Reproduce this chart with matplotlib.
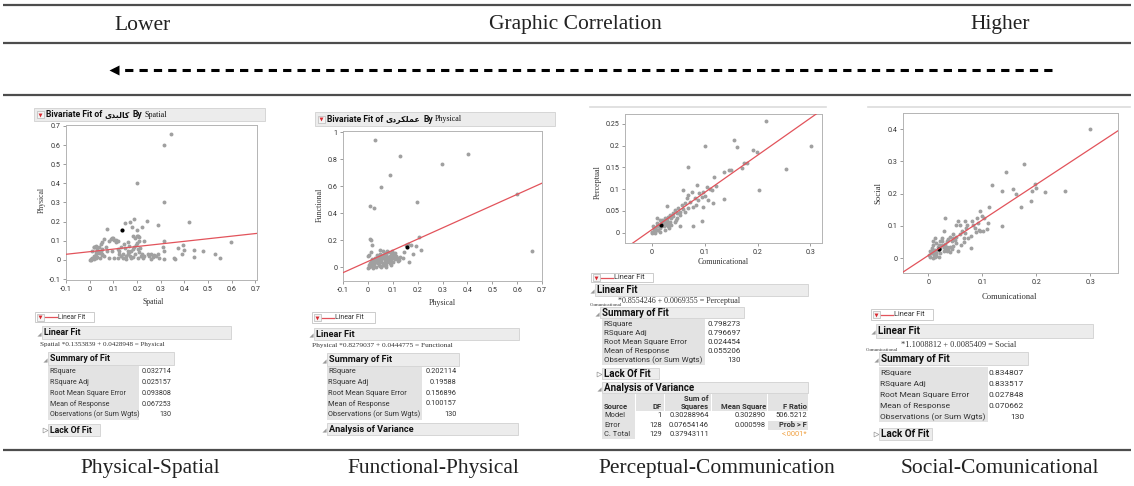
import numpy as np
import matplotlib.pyplot as plt
from matplotlib.patches import Rectangle
from matplotlib.path import Path

plt.rcParams['axes.unicode_minus'] = False

UI = ['Roboto', 'DejaVu Sans']
SERIF = ['Liberation Serif', 'DejaVu Serif']
RED = '#e2535b'
PT = '#a0a0a0'
INK = '#333333'

band_labels = ['Lower', 'Graphic Correlation', 'Higher']
case_labels = ['Physical-Spatial', 'Functional-Physical',
               'Perceptual-Communication', 'Social-Comunicational']
stat_labels = ['RSquare', 'RSquare Adj', 'Root Mean Square Error',
               'Mean of Response', 'Observations (or Sum Wgts)']

# Persian variable names, written in visual (shaped, left-to-right) order
kalbadi = '\uFBFC\uFEAA\uFE92\uFEDF\uFE8E\uFB90'
amalkardi = '\uFBFC\uFEA9\uFEAE\uFB91\uFEE0\uFEE4\uFECB'

# Physical (y) by Spatial (x)
spatial_physical = [
    (0.342, 0.658), (0.312, 0.603), (0.200, 0.400), (0.315, 0.300), (0.241, 0.205),
    (0.290, 0.180), (0.421, 0.196), (0.188, 0.214), (0.150, 0.193), (0.170, 0.196),
    (0.072, 0.161), (0.177, 0.170), (0.200, 0.158), (0.221, 0.170), (0.599, 0.091),
    (0.528, 0.030), (0.550, 0.009), (0.479, 0.047), (0.440, 0.054), (0.440, 0.016),
    (0.394, 0.079), (0.397, 0.050), (0.390, 0.030), (0.373, 0.061), (0.358, 0.009),
    (0.362, 0.004), (0.312, 0.100), (0.312, 0.047), (0.312, 0.004), (0.309, 0.065),
    (0.004, 0.004), (0.011, 0.012), (0.018, 0.021), (0.025, 0.039), (0.033, 0.056),
    (0.040, 0.068), (0.047, 0.082), (0.051, 0.091), (0.025, 0.074), (0.018, 0.065),
    (0.011, 0.047), (0.028, 0.030), (0.037, 0.039), (0.047, 0.047), (0.054, 0.056),
    (0.068, 0.065), (0.075, 0.047), (0.082, 0.100), (0.089, 0.109), (0.096, 0.114),
    (0.103, 0.105), (0.110, 0.091), (0.125, 0.047), (0.132, 0.021), (0.139, 0.012),
    (0.153, 0.021), (0.160, 0.030), (0.167, 0.039), (0.174, 0.047), (0.181, 0.056),
    (0.188, 0.065), (0.195, 0.079), (0.198, 0.126), (0.205, 0.126), (0.210, 0.100),
    (0.203, 0.056), (0.210, 0.039), (0.217, 0.021), (0.224, 0.012), (0.231, 0.021),
    (0.252, 0.021), (0.259, 0.030), (0.266, 0.016), (0.280, 0.021), (0.288, 0.030),
    (0.295, 0.012), (0.118, 0.056), (0.132, 0.065), (0.146, 0.082), (0.160, 0.091),
    (0.167, 0.074), (0.160, 0.047), (0.153, 0.004), (0.174, 0.009), (0.181, 0.016),
    (0.203, 0.012), (0.096, 0.047), (0.103, 0.012), (0.118, 0.012), (0.125, 0.033),
    (0.061, 0.109), (0.054, 0.026), (0.042, 0.009), (0.025, 0.009), (0.000, 0.000),
    (0.007, 0.002), (0.020, 0.005), (0.030, 0.015), (0.060, 0.020), (0.080, 0.010),
    (0.140, 0.030), (0.212, 0.060), (0.230, 0.100), (0.200, 0.090), (0.270, 0.025),
    (0.245, 0.030), (0.260, 0.005), (0.220, 0.030), (0.190, 0.030), (0.170, 0.022),
    (0.150, 0.060), (0.120, 0.100), (0.110, 0.105), (0.020, 0.070), (0.040, 0.035),
    (0.050, 0.030), (0.100, 0.115), (0.185, 0.125), (0.192, 0.112), (0.208, 0.118),
]
spatial_mean = (0.138, 0.158)
fit_physical = (0.1353839, 0.0428948)
stats_physical = ['0.032714', '0.025157', '0.093808', '0.067253', '130']

# Functional (y) by Physical (x)
physical_functional = [
    (0.029, 0.943), (0.131, 0.822), (0.401, 0.842), (0.299, 0.763), (0.087, 0.681),
    (0.051, 0.598), (0.196, 0.481), (0.008, 0.454), (0.023, 0.442), (0.601, 0.543),
    (0.658, 0.123), (0.008, 0.212), (0.013, 0.200), (0.016, 0.170), (0.204, 0.225),
    (0.214, 0.126), (0.180, 0.101), (0.165, 0.040), (0.172, 0.163), (0.161, 0.173),
    (0.194, 0.160), (0.127, 0.057), (0.098, 0.121), (0.075, 0.121), (0.048, 0.133),
    (0.000, 0.086), (0.005, 0.096), (0.011, 0.111), (0.000, -0.002), (0.005, 0.005),
    (0.011, 0.012), (0.016, 0.022), (0.021, 0.030), (0.027, 0.042), (0.032, 0.052),
    (0.038, 0.062), (0.043, 0.072), (0.048, 0.079), (0.054, 0.086), (0.060, 0.096),
    (0.067, 0.104), (0.074, 0.091), (0.080, 0.079), (0.087, 0.067), (0.094, 0.054),
    (0.101, 0.079), (0.107, 0.096), (0.114, 0.086), (0.121, 0.072), (0.101, 0.042),
    (0.087, 0.030), (0.074, 0.017), (0.060, 0.022), (0.047, 0.012), (0.034, 0.005),
    (0.020, -0.002), (0.040, 0.030), (0.054, 0.042), (0.067, 0.054), (0.080, 0.047),
    (0.060, 0.067), (0.047, 0.054), (0.034, 0.037), (0.024, 0.054), (0.013, 0.042),
    (0.007, 0.030), (0.067, 0.079), (0.080, 0.111), (0.094, 0.104), (0.074, 0.037),
    (0.094, 0.017), (0.074, 0.005), (0.054, 0.005), (0.030, 0.060), (0.020, 0.020),
    (0.040, 0.045), (0.060, 0.035), (0.050, 0.100), (0.085, 0.055), (0.110, 0.060),
    (0.120, 0.050), (0.100, 0.100), (0.070, 0.080), (0.028, 0.070), (0.035, 0.090),
    (0.015, 0.060), (0.045, 0.020), (0.065, 0.015), (0.085, 0.040), (0.090, 0.085),
    (0.062, 0.120), (0.110, 0.110), (0.130, 0.080), (0.140, 0.070), (0.005, 0.015),
    (0.018, 0.008), (0.026, 0.028), (0.052, 0.064), (0.078, 0.062), (0.097, 0.068),
    (0.145, 0.115), (0.155, 0.165),
]
physical_mean = (0.158, 0.148)
fit_functional = (0.8279037, 0.0444775)
stats_functional = ['0.202114', '0.19588', '0.156896', '0.100157', '130']

# Perceptual (y) by Comunicational (x)
comm_perceptual = [
    (0.216, 0.258), (0.302, 0.199), (0.101, 0.199), (0.156, 0.212), (0.162, 0.196),
    (0.191, 0.190), (0.199, 0.186), (0.180, 0.161), (0.171, 0.148), (0.254, 0.146),
    (0.202, 0.098), (0.068, 0.152), (0.137, 0.140), (0.145, 0.143), (0.118, 0.127),
    (0.137, 0.077), (0.094, 0.026), (0.078, 0.015), (0.053, 0.014), (0.104, 0.106),
    (0.110, 0.100), (0.097, 0.094), (0.085, 0.110), (0.059, 0.098), (0.075, 0.094),
    (0.069, 0.087), (0.082, 0.079), (0.088, 0.075), (0.095, 0.081), (0.100, 0.084),
    (0.107, 0.075), (0.116, 0.069), (0.097, 0.058), (0.083, 0.064), (0.072, 0.071),
    (0.063, 0.069), (0.056, 0.064), (0.050, 0.056), (0.053, 0.048), (0.047, 0.044),
    (0.040, 0.038), (0.037, 0.033), (0.029, 0.062), (0.028, 0.029), (0.025, 0.025),
    (0.018, 0.021), (0.012, 0.018), (0.009, 0.014), (0.006, 0.010), (0.003, 0.006),
    (0.000, 0.002), (0.001, 0.000), (0.006, 0.000), (0.012, 0.005), (0.015, 0.010),
    (0.022, 0.014), (0.028, 0.018), (0.031, 0.021), (0.034, 0.025), (0.025, 0.033),
    (0.015, 0.029), (0.009, 0.033), (0.022, 0.021), (0.018, 0.014), (0.031, 0.014),
    (0.037, 0.018), (0.044, 0.025), (0.047, 0.033), (0.040, 0.044), (0.044, 0.052),
    (0.053, 0.041), (0.063, 0.048), (0.069, 0.056), (0.077, 0.060), (0.066, 0.079),
    (0.009, 0.006), (0.003, 0.010), (0.015, 0.002), (0.025, 0.006), (0.033, 0.010),
    (0.121, 0.107), (0.113, 0.098), (0.002, 0.015), (0.010, 0.022), (0.020, 0.030),
    (0.030, 0.035), (0.035, 0.040), (0.045, 0.030), (0.058, 0.055), (0.090, 0.090),
    (0.150, 0.145), (0.175, 0.160),
]
perceptual_mean = (0.017, 0.018)
fit_perceptual = (0.8554246, 0.0069355)
stats_perceptual = ['0.798273', '0.796697', '0.024454', '0.055206', '130']

anova_cols = ['Source', 'DF', 'Squares', 'Mean Square', 'F Ratio']
anova_source = ['Model', 'Error', 'C. Total']
anova_df = ['1', '128', '129']
anova_ss = ['0.30288964', '0.07654146', '0.37943111']
anova_ms = ['0.302890', '0.000598', '']
anova_f = ['506.5212', 'Prob > F', '<.0001*']

# Social (y) by Comunicational (x)
comm_social = [
    (0.300, 0.401), (0.177, 0.292), (0.144, 0.267), (0.118, 0.227), (0.137, 0.207),
    (0.156, 0.214), (0.162, 0.199), (0.197, 0.230), (0.200, 0.216), (0.191, 0.207),
    (0.216, 0.206), (0.252, 0.209), (0.190, 0.176), (0.171, 0.160), (0.136, 0.101),
    (0.113, 0.160), (0.096, 0.145), (0.099, 0.131), (0.103, 0.125), (0.090, 0.124),
    (0.080, 0.114), (0.068, 0.114), (0.055, 0.114), (0.059, 0.103), (0.052, 0.103),
    (0.071, 0.103), (0.083, 0.103), (0.091, 0.109), (0.086, 0.093), (0.094, 0.088),
    (0.096, 0.083), (0.102, 0.083), (0.108, 0.091), (0.111, 0.109), (0.030, 0.123),
    (0.079, 0.031), (0.054, 0.021), (0.046, 0.075), (0.040, 0.067), (0.046, 0.062),
    (0.052, 0.067), (0.059, 0.075), (0.065, 0.062), (0.068, 0.078), (0.074, 0.062),
    (0.060, 0.041), (0.052, 0.047), (0.043, 0.052), (0.034, 0.052), (0.028, 0.083),
    (0.025, 0.062), (0.012, 0.062), (0.022, 0.052), (0.015, 0.047), (0.009, 0.041),
    (0.006, 0.031), (0.003, 0.021), (0.002, 0.010), (0.003, 0.003), (0.008, 0.000),
    (0.012, 0.005), (0.015, 0.016), (0.018, 0.024), (0.022, 0.031), (0.025, 0.041),
    (0.028, 0.036), (0.031, 0.028), (0.034, 0.036), (0.037, 0.026), (0.040, 0.034),
    (0.043, 0.028), (0.046, 0.038), (0.028, 0.021), (0.022, 0.016), (0.015, 0.007),
    (0.009, 0.016), (0.006, 0.021), (0.012, 0.026), (0.018, 0.034), (0.025, 0.052),
    (0.009, 0.052), (0.034, 0.021), (0.020, 0.005), (0.010, 0.010), (0.030, 0.045),
    (0.036, 0.058), (0.050, 0.055), (0.062, 0.085), (0.070, 0.095), (0.078, 0.070),
    (0.088, 0.080), (0.020, 0.040), (0.004, 0.015), (0.014, 0.012), (0.040, 0.020),
    (0.065, 0.050),
]
social_mean = (0.019, 0.028)
fit_social = (1.1008812, 0.0085409)
stats_social = ['0.834807', '0.833517', '0.027848', '0.070662', '130']


W, H = 1134, 486
fig = plt.figure(figsize=(W / 100, H / 100), dpi=100)
bg = fig.add_axes([0, 0, 1, 1])
bg.set_xlim(0, W)
bg.set_ylim(H, 0)
bg.axis('off')

# open disclosure triangle used by JMP report headers
OPEN_TRI = Path([(1, 1), (1, -1), (-1, -1), (1, 1)])


def txt(x, y, s, size=5.3, ha='left', fam=UI, **kw):
    kw.setdefault('color', INK)
    return bg.text(x, y, s, fontsize=size, ha=ha, va='center', family=fam, **kw)


def red_icon(x, y):
    bg.add_patch(Rectangle((x - 3.5, y - 3.5), 7, 7, fc='#f4f4f4', ec='#b8b8b8', lw=0.5))
    bg.plot([x], [y + 0.3], marker='v', ms=2.8, color='#d8282f', mec='none')


def header(x0, y0, x1, y1, s, k=1.0, opened=True):
    bg.add_patch(Rectangle((x0, y0), x1 - x0, y1 - y0, fc='#ececec', ec='#d0d0d0', lw=0.6))
    yc = (y0 + y1) / 2
    if opened:
        bg.plot([x0 - 3.5], [yc + 1], marker=OPEN_TRI, ms=3, color='#9a9a9a', mec='none')
    else:
        bg.plot([x0 - 3.5], [yc], marker='>', ms=3.5, mfc='white', mec='#9a9a9a', mew=0.5)
    txt(x0 + 2, yc, s, size=6.3 * k, fontweight='bold', color='#111111')


def legend_box(x0, y0, x1, y1, k=1.0):
    bg.add_patch(Rectangle((x0, y0), x1 - x0, y1 - y0, fc='white', ec='#c4c4c4', lw=0.6))
    yc = (y0 + y1) / 2
    red_icon(x0 + 5, yc)
    bg.plot([x0 + 10, x0 + 22], [yc, yc], color=RED, lw=0.9)
    txt(x0 + 23, yc, 'Linear Fit', size=4.8 * k)


def summary(x0, xs, y0, y1, rows_y, vx, values, k=1.0):
    bg.add_patch(Rectangle((x0, y0), xs - x0, y1 - y0, fc='#e3e3e3', ec='none'))
    for y, lab, v in zip(rows_y, stat_labels, values):
        txt(x0 + 1.5, y, lab, size=5.1 * k)
        txt(vx, y, v, ha='right', size=5.1 * k)


def title_bar(x0, y0, x1, y1, var_fa, by):
    bg.add_patch(Rectangle((x0, y0), x1 - x0, y1 - y0, fc='#ececec', ec='#d0d0d0', lw=0.6))
    yc = (y0 + y1) / 2
    red_icon(x0 + 6, yc)
    pieces = [('Bivariate Fit of', dict(family=UI, fontweight='bold', fontsize=6.2)),
              (var_fa, dict(family=['DejaVu Sans'], fontweight='bold', fontsize=5.6)),
              ('By', dict(family=UI, fontweight='bold', fontsize=6.2)),
              (by, dict(family=SERIF, fontsize=5.8))]
    prev = bg.text(x0 + 12, yc, pieces[0][0], va='center', color='#111111', **pieces[0][1])
    for s, kw in pieces[1:]:
        prev = bg.annotate(s, xy=(1, 0.5), xycoords=prev, xytext=(2.5, 0),
                           textcoords='offset pixels', va='center', ha='left',
                           color='#111111', **kw)


def scatter_box(l, t, r, b, pts, mean_pt, fit, xlim, ylim, xticks, yticks):
    ax = fig.add_axes([l / W, 1 - b / H, (r - l) / W, (b - t) / H])
    xs = [p[0] for p in pts]
    ys = [p[1] for p in pts]
    ax.scatter(xs, ys, s=8, color=PT, linewidths=0, zorder=2)
    ax.scatter([mean_pt[0]], [mean_pt[1]], s=9, color='black', linewidths=0, zorder=3)
    fx = np.array(xlim)
    ax.plot(fx, fit[1] + fit[0] * fx, color=RED, lw=0.9, zorder=4)
    ax.set_xlim(xlim)
    ax.set_ylim(ylim)
    ax.set_xticks(xticks)
    ax.set_yticks(yticks)
    fmt = lambda v, p: f'{v:g}'
    ax.xaxis.set_major_formatter(fmt)
    ax.yaxis.set_major_formatter(fmt)
    ax.tick_params(length=2.5, width=0.6, color='#8c8c8c', labelsize=5.1,
                   labelcolor='#333333', pad=1.5)
    for lab in ax.get_xticklabels() + ax.get_yticklabels():
        lab.set_family(UI)
    for s in ax.spines.values():
        s.set_color('#b4b4b4')
        s.set_linewidth(0.7)
    return ax


# table rules, band heading and direction arrow
for y in (5, 43, 95, 450):
    bg.plot([3, 1131], [y, y], color='#4d4d4d', lw=1.6, solid_capstyle='butt')
for x, s in zip((143, 575, 1000), band_labels):
    bg.text(x, 25, s, fontsize=15.5, family=SERIF, ha='center', va='center', color='#222222')
bg.plot([1052, 118], [70, 70], color='black', lw=2.2, dashes=(2.7, 2.0))
bg.plot([114], [70], marker='<', ms=7, color='black', mec='none')
for x, s in zip((150, 433, 717, 1000), case_labels):
    bg.text(x, 468, s, fontsize=15.5, family=SERIF, ha='center', va='center', color='#222222')

# ---- Physical by Spatial
title_bar(34, 108, 265, 121, kalbadi, 'Spatial')
scatter_box(66, 125, 257, 280, spatial_physical, spatial_mean, fit_physical,
            (-0.1, 0.707), (-0.105, 0.705), np.arange(-0.1, 0.75, 0.1), np.arange(-0.1, 0.75, 0.1))
txt(41.7, 200, 'Physical', size=5.5, fam=SERIF, ha='center', rotation=90)
txt(153, 302, 'Spatial', size=5.5, fam=SERIF, ha='center')
legend_box(35, 312, 94, 322)
header(42, 326, 231, 339, 'Linear Fit')
txt(40, 344.3, f'Spatial *{fit_physical[0]:.7f} + {fit_physical[1]:.7f} = Physical', size=5.1, fam=SERIF)
header(48, 352, 174, 365, 'Summary of Fit')
summary(48, 139, 366, 420, (371.7, 382.7, 393.3, 404, 414.3), 171, stats_physical)
header(48, 424, 100, 436, 'Lack Of Fit', opened=False)

# ---- Functional by Physical
title_bar(315, 112, 555, 126, amalkardi, 'Physical')
scatter_box(343, 131, 542, 281, physical_functional, physical_mean, fit_functional,
            (-0.1, 0.7), (-0.1, 1.01), np.arange(-0.1, 0.75, 0.1), np.arange(0, 1.05, 0.2))
txt(320, 205, 'Functional', size=5.8, fam=SERIF, ha='center', rotation=90)
txt(442, 303, 'Physical', size=5.8, fam=SERIF, ha='center')
legend_box(312, 312, 375, 323, k=1.05)
header(314, 328, 519, 340, 'Linear Fit', k=1.05)
txt(312, 345.7, f'Physical *{fit_functional[0]:.7f} + {fit_functional[1]:.7f} = Functional', size=5.3, fam=SERIF)
header(327, 353, 459, 366, 'Summary of Fit', k=1.05)
summary(327, 422, 367, 420, (371.7, 382.3, 393, 403.7, 414.3), 456.7, stats_functional, k=1.05)
header(327, 423, 518, 435, 'Analysis of Variance', k=1.05)

# ---- Perceptual by Comunicational
bg.plot([590, 826], [107, 107], color='#dcdcdc', lw=1.2)
scatter_box(625, 114, 822, 243, comm_perceptual, perceptual_mean, fit_perceptual,
            (-0.051, 0.322), (-0.024, 0.273), np.arange(0, 0.35, 0.1), np.arange(0, 0.27, 0.05))
txt(598, 182, 'Perceptual', size=5.8, fam=SERIF, ha='center', rotation=90)
txt(723, 262, 'Comunicational', size=5.8, fam=SERIF, ha='center')
legend_box(591, 273, 653, 282, k=1.1)
header(595, 284, 808, 296, 'Linear Fit', k=1.1)
txt(618, 300.7, f'*{fit_perceptual[0]:.7f} + {fit_perceptual[1]:.7f} = Perceptual', size=5.8, fam=SERIF)
txt(590, 305, 'Comunicational', size=3.6, fam=SERIF)
header(600, 307, 744, 318, 'Summary of Fit', k=1.12)
summary(602, 705, 319, 365, (324, 332.7, 341.7, 350.7, 360), 740.7, stats_perceptual, k=1.12)
header(602, 368, 659, 379, 'Lack Of Fit', k=1.12, opened=False)
header(602, 382, 808, 393, 'Analysis of Variance', k=1.12)

col_edges = [(602, 635), (636, 664), (665, 711), (712, 767), (768, 808)]
col_right = [604, 662, 709, 766, 807]
for (a, c) in col_edges:
    bg.add_patch(Rectangle((a, 394), c - a, 17, fc='#e3e3e3', ec='none'))
bg.add_patch(Rectangle((602, 411), 33, 28, fc='#e3e3e3', ec='none'))
bg.add_patch(Rectangle((768, 420.5), 40, 9, fc='#e3e3e3', ec='none'))
txt(709, 398.5, 'Sum of', ha='right', fontweight='bold', size=5.5)
for i, (s, xr) in enumerate(zip(anova_cols, col_right)):
    txt(xr, 406, s, ha='left' if i == 0 else 'right', fontweight='bold', size=5.5)
for y, src, df, ss, ms, fr in zip((415.5, 425, 434), anova_source, anova_df,
                                   anova_ss, anova_ms, anova_f):
    txt(604, y, src, size=5.4)
    txt(662, y, df, ha='right', size=5.4)
    txt(709, y, ss, ha='right', size=5.4)
    txt(766, y, ms, ha='right', size=5.4)
    if fr.startswith('Prob'):
        txt(807, y, fr, ha='right', fontweight='bold', size=5.4)
    elif fr.startswith('<'):
        txt(807, y, fr, ha='right', color='#f0a040', size=5.4)
    else:
        txt(807, y, fr, ha='right', size=5.4)

# ---- Social by Comunicational
bg.plot([868, 1130], [107, 107], color='#dcdcdc', lw=1.2)
scatter_box(903, 113, 1118, 273, comm_social, social_mean, fit_social,
            (-0.047, 0.351), (-0.046, 0.45), np.arange(0, 0.35, 0.1), np.arange(0, 0.45, 0.1))
txt(878, 193, 'Social', size=6.2, fam=SERIF, ha='center', rotation=90)
txt(1009, 297, 'Comunicational', size=6.2, fam=SERIF, ha='center')
legend_box(871, 309, 933, 320, k=1.1)
header(876, 324, 1093, 338, 'Linear Fit', k=1.15)
txt(901, 345, f'*{fit_social[0]:.7f} + {fit_social[1]:.7f} = Social', size=6, fam=SERIF)
txt(866, 350, 'Comunicational', size=3.6, fam=SERIF)
header(879, 352, 1028, 365, 'Summary of Fit', k=1.15)
summary(879, 988, 367, 422, (373, 384, 395, 406, 417), 1024, stats_social, k=1.18)
header(879, 428, 932, 440, 'Lack Of Fit', k=1.15, opened=False)

fig.savefig('out.png', dpi=100)
